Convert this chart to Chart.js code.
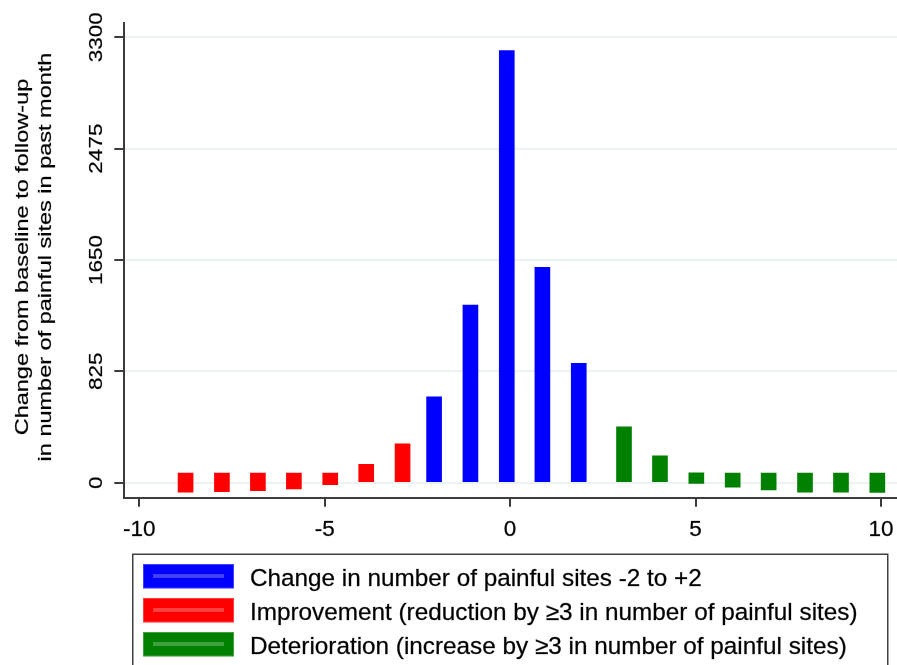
<!DOCTYPE html>
<html>
<head>
<meta charset="utf-8">
<script src="https://cdn.jsdelivr.net/npm/chart.js@4"></script>
<style>
  html, body { margin: 0; padding: 0; background: #ffffff; }
  #wrap { position: relative; width: 897px; height: 665px; }
  canvas { display: block; }
</style>
</head>
<body>
<div id="wrap"><canvas id="c" width="897" height="665"></canvas></div>
<script>
// ---- data ----
// x positions (axis units) of bar centres, and bar low/high values (counts)
const stableX    = [-2.05, -1.07, -0.09, 0.87, 1.85];
const stableLow  = [0, 0, 0, 0, 0];
const stableHigh = [635, 1316, 3201, 1596, 884];

const improveX    = [-8.75, -7.77, -6.80, -5.83, -4.85, -3.88, -2.90];
const improveLow  = [-71, -66, -59, -47, -15, 0, 0];
const improveHigh = [70, 70, 70, 70, 70, 136, 287];

const worseX    = [3.07, 4.04, 5.02, 6.00, 6.97, 7.95, 8.92, 9.90];
const worseLow  = [0, 0, -5, -34, -54, -71, -71, -73];
const worseHigh = [413, 198, 72, 70, 70, 70, 70, 70];

const seriesLabels = [
  'Change in number of painful sites -2 to +2',
  'Improvement (reduction by \u22653 in number of painful sites)',
  'Deterioration (increase by \u22653 in number of painful sites)'
];
const xTicks = [-10, -5, 0, 5, 10];
const yTicks = [0, 825, 1650, 2475, 3300];
const yTitle = ['Change from baseline to follow-up', 'in number of painful sites in past month'];

// ---- styles ----
const COLORS = ['#0000ff', '#ff0000', '#008000'];
const FONT = "'Liberation Sans', Arial, Helvetica, sans-serif";
const AXIS = '#3c3c3c';

function pts(xs, lo, hi) { return xs.map((x, i) => ({ x: x, y: [lo[i], hi[i]] })); }

function heavyText(ctx, s, x, y) {
  ctx.fillText(s, x, y);
  ctx.strokeText(s, x, y);
}

const textPlugin = {
  id: 'stataText',
  afterDraw(chart) {
    const ctx = chart.ctx;
    const xs = chart.scales.x, ys = chart.scales.y;
    ctx.save();
    ctx.fillStyle = '#000';
    ctx.strokeStyle = 'rgba(0,0,0,0.55)';
    ctx.lineWidth = 0.45;
    // x tick labels
    ctx.font = '22.5px ' + FONT;
    ctx.textAlign = 'center';
    ctx.textBaseline = 'alphabetic';
    xTicks.forEach(v => heavyText(ctx, String(v), xs.getPixelForValue(v), 536));
    // y tick labels (rotated)
    yTicks.forEach(v => {
      ctx.save();
      ctx.translate(101.5, ys.getPixelForValue(v));
      ctx.rotate(-Math.PI / 2);
      ctx.scale(1, 0.8);
      ctx.font = '22.5px ' + FONT;
      ctx.textAlign = 'center';
      heavyText(ctx, String(v), 0, 0);
      ctx.restore();
    });
    // y title
    const midY = 257;
    [27.5, 51].forEach((bx, i) => {
      ctx.save();
      ctx.translate(bx, midY);
      ctx.rotate(-Math.PI / 2);
      ctx.scale(1, 0.78);
      ctx.font = '23.5px ' + FONT;
      ctx.textAlign = 'center';
      heavyText(ctx, yTitle[i], 0, 0);
      ctx.restore();
    });
    // legend box
    ctx.save();
    ctx.strokeStyle = '#404040';
    ctx.lineWidth = 1.5;
    ctx.strokeRect(132.75, 554.25, 755, 130);
    ctx.restore();
    const ds = chart.data.datasets;
    ds.forEach((d, i) => {
      const top = 564 + i * 34;
      ctx.save();
      ctx.fillStyle = d.backgroundColor;
      ctx.fillRect(143, top, 91, 24.5);
      ctx.strokeStyle = 'rgba(255,255,255,0.25)';
      ctx.lineWidth = 1;
      ctx.strokeRect(143.5, top + 0.5, 90, 23.5);
      ctx.fillStyle = 'rgba(255,255,255,0.25)';
      ctx.fillRect(153, top + 10, 71, 4);
      ctx.restore();
      ctx.font = '24.3px ' + FONT;
      ctx.textAlign = 'left';
      ctx.textBaseline = 'alphabetic';
      heavyText(ctx, d.label, 250, 585.7 + i * 34);
    });
    ctx.restore();
  }
};

new Chart(document.getElementById('c'), {
  type: 'bar',
  data: {
    datasets: [
      { label: seriesLabels[0], data: pts(stableX, stableLow, stableHigh), backgroundColor: COLORS[0] },
      { label: seriesLabels[1], data: pts(improveX, improveLow, improveHigh), backgroundColor: COLORS[1] },
      { label: seriesLabels[2], data: pts(worseX, worseLow, worseHigh), backgroundColor: COLORS[2] }
    ]
  },
  options: {
    responsive: false,
    animation: false,
    devicePixelRatio: 1,
    datasets: { bar: { grouped: false, barThickness: 15, borderWidth: 0 } },
    layout: { padding: { top: 22.7, right: 0, bottom: 0, left: 0 } },
    plugins: { legend: { display: false }, tooltip: { enabled: false } },
    scales: {
      x: {
        type: 'linear', min: -10.41, max: 10.43, offset: false,
        afterBuildTicks: s => { s.ticks = xTicks.map(v => ({ value: v })); },
        afterFit: s => { s.height = 166.7; },
        ticks: { display: false },
        grid: { offset: false, drawOnChartArea: false, drawTicks: true, tickLength: 8.5, tickColor: AXIS, tickWidth: 2, lineWidth: 2, color: AXIS },
        border: { display: true, color: AXIS, width: 2 }
      },
      y: {
        type: 'linear', min: -116, max: 3408,
        afterBuildTicks: s => { s.ticks = yTicks.map(v => ({ value: v })); },
        afterFit: s => { s.width = 124; },
        ticks: { display: false },
        grid: { offset: false, color: '#eaf2f3', lineWidth: 2, drawTicks: true, tickLength: 9.7, tickColor: AXIS, tickWidth: 2 },
        border: { display: true, color: AXIS, width: 2 }
      }
    }
  },
  plugins: [textPlugin]
});
</script>
</body>
</html>
